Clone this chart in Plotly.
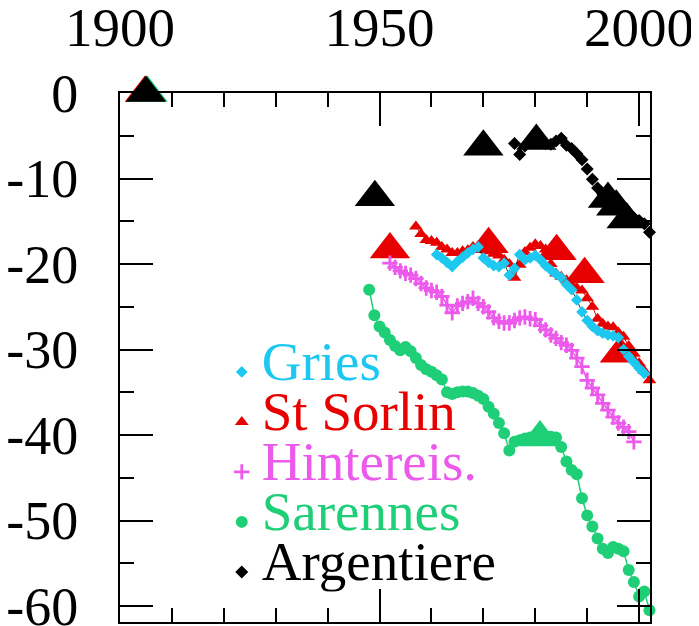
import plotly.graph_objects as go

# ---------------- data ----------------
gries_years = list(range(1961, 2002))
gries_vals = [-18.9, -19.3, -19.8, -20.3, -19.7, -19.2, -18.7, -18.3, -18.0, -19.3,
              -19.8, -20.2, -20.3, -19.9, -21.3, -20.5, -18.9, -19.5, -19.3, -19.0,
              -19.5, -20.2, -20.7, -21.2, -21.6, -22.4, -23.0, -24.2, -25.6, -26.6,
              -27.3, -27.8, -28.1, -28.3, -28.4, -28.6, -30.0, -30.8, -31.5, -32.2,
              -32.8]

sorlin_years = list(range(1957, 2003))
sorlin_vals = [-15.6, -16.5, -17.2, -17.3, -17.5, -18.0, -18.3, -18.7, -18.7, -18.5,
               -18.4, -18.0, -17.9, -18.2, -18.5, -18.8, -19.0, -19.5, -20.0, -21.6,
               -20.1, -18.6, -18.1, -17.7, -17.9, -18.3, -20.0, -21.1, -21.5, -21.9,
               -22.4, -22.8, -23.1, -24.0, -25.0, -26.4, -27.0, -27.3, -27.4, -28.0,
               -28.5, -29.6, -30.5, -31.6, -32.5, -33.6]

hinter_years = list(range(1952, 2000))
hinter_vals = [-19.9, -20.4, -20.8, -21.1, -21.3, -21.7, -22.3, -22.8, -23.1, -23.3,
               -23.8, -24.8, -25.7, -24.9, -24.6, -24.4, -24.0, -24.6, -25.0, -25.6,
               -26.3, -26.7, -26.9, -26.9, -26.6, -26.3, -26.2, -26.4, -26.5, -27.2,
               -27.7, -28.3, -28.7, -29.2, -29.5, -30.1, -31.0, -32.0, -33.6, -34.5,
               -35.3, -36.3, -37.1, -37.9, -38.6, -39.1, -39.6, -40.8]

saren_years = list(range(1948, 2003))
saren_vals = [-23.0, -26.0, -27.3, -28.0, -28.9, -29.6, -30.1, -29.7, -30.2, -31.0,
              -31.8, -32.3, -32.6, -33.0, -33.5, -35.0, -35.2, -35.0, -34.9, -34.9,
              -35.1, -35.4, -35.8, -36.7, -37.5, -38.6, -39.8, -41.8, -40.8, -40.6,
              -40.4, -40.3, -40.2, -40.2, -40.2, -40.2, -40.3, -41.4, -43.1, -44.1,
              -44.6, -47.4, -49.4, -50.7, -52.1, -53.3, -53.8, -53.1, -53.3, -53.6,
              -55.8, -57.2, -58.9, -58.3, -60.5]

argent_years = list(range(1976, 2003))
argent_vals = [-5.9, -7.2, -6.2, -5.8, -5.4, -5.6, -5.9, -6.0, -5.6, -5.3,
               -6.1, -6.5, -7.1, -7.8, -8.9, -10.1, -11.1, -11.8, -12.3, -12.6,
               -13.1, -13.7, -14.1, -14.6, -14.9, -15.3, -16.3]

# large triangles (other estimates)
big_red_x = [1904.8, 1952.0, 1971.0, 1984.1, 1989.5, 1996.3]
big_red_y = [0.0, -18.3, -17.7, -18.5, -21.2, -30.5]
big_green_x = [1905.3, 1980.9]
big_green_y = [0.0, -40.3]
big_black_x = [1905.0, 1949.1, 1970.0, 1980.2, 1994.0, 1995.6, 1997.6]
big_black_y = [0.0, -12.2, -6.3, -5.6, -12.4, -13.3, -14.8]

names = ["Gries", "St Sorlin", "Hintereis.", "Sarennes", "Argentiere"]
colors = ["#1CC8F0", "#E80000", "#EC5AEC", "#1ECF78", "#000000"]

x_ticks = [1900, 1950, 2000]
y_ticks = [0, -10, -20, -30, -40, -50, -60]

FONT = "Liberation Serif"


def lname(i):
    return '<span style="font-size:55px;color:%s">%s</span>' % (colors[i], names[i])


fig = go.Figure()

# big red / green triangles (behind)
fig.add_trace(go.Scatter(x=big_red_x, y=big_red_y, mode="markers", showlegend=False,
                         marker=dict(symbol="triangle-up", size=35, color=colors[1]),
                         cliponaxis=False, hoverinfo="skip"))
fig.add_trace(go.Scatter(x=big_green_x, y=big_green_y, mode="markers", showlegend=False,
                         marker=dict(symbol="triangle-up", size=35, color=colors[3]),
                         cliponaxis=False, hoverinfo="skip"))

series = [
    # (index, years, values, symbol, size, line colour, line width, rank)
    (1, sorlin_years, sorlin_vals, "triangle-up", 12, colors[1], 1, 2),
    (0, gries_years, gries_vals, "diamond", 9, "#000000", 0.8, 1),
    (2, hinter_years, hinter_vals, "cross-thin", 11, colors[2], 1.5, 3),
    (3, saren_years, saren_vals, "circle", 12, colors[3], 1.5, 4),
    (4, argent_years, argent_vals, "diamond", 10, None, 0, 5),
]

for idx, xs, ys, sym, sz, lcol, lw, rank in series:
    if lcol is not None:
        fig.add_trace(go.Scatter(x=xs, y=ys, mode="lines", showlegend=False,
                                 line=dict(color=lcol, width=lw), cliponaxis=False,
                                 hoverinfo="skip"))
    if sym == "cross-thin":
        mk = dict(symbol=sym, size=sz, line=dict(color=colors[idx], width=2.8))
    else:
        mk = dict(symbol=sym, size=sz, color=colors[idx], line=dict(width=0))
    fig.add_trace(go.Scatter(x=xs, y=ys, mode="markers", name=lname(idx),
                             legendrank=rank, legendgroup=names[idx],
                             cliponaxis=False, marker=mk))

# big black triangles (front)
fig.add_trace(go.Scatter(x=big_black_x, y=big_black_y, mode="markers", showlegend=False,
                         marker=dict(symbol="triangle-up", size=35, color="#000000"),
                         cliponaxis=False, hoverinfo="skip"))

axis_common = dict(
    showgrid=False, zeroline=False, automargin=False,
    showline=True, linecolor="black", linewidth=2,
    ticks="inside", ticklen=33, tickwidth=2, tickcolor="black",
    mirror="allticks", ticklabeloverflow="allow",
)

fig.update_xaxes(range=[1900, 2002.1], side="top", tickvals=x_ticks,
                 ticktext=[str(v) for v in x_ticks], ticklabelstandoff=23,
                 tickfont=dict(family=FONT, size=55, color="black"),
                 minor=dict(dtick=10, tick0=1900, ticks="inside", ticklen=14,
                            tickwidth=2, tickcolor="black"),
                 **axis_common)
fig.update_yaxes(range=[-61.87, 0], tickvals=y_ticks,
                 ticktext=[str(v) for v in y_ticks], ticklabelstandoff=29,
                 tickfont=dict(family=FONT, size=54, color="black"),
                 minor=dict(dtick=5, tick0=0, ticks="inside", ticklen=14,
                            tickwidth=2, tickcolor="black"),
                 **axis_common)

# the page body adds an 8px offset; the figure is sized so the plot area
# lands at the same pixels as the reference
fig.update_layout(
    width=691, height=618,
    margin=dict(l=112, r=49, t=85, b=4, autoexpand=False),
    paper_bgcolor="white", plot_bgcolor="white",
    font=dict(family=FONT, color="black"),
    showlegend=True,
    legend=dict(x=0.192, y=0.549, xanchor="left", yanchor="top",
                bgcolor="rgba(0,0,0,0)", borderwidth=0,
                title=dict(text=" ", font=dict(family=FONT, size=16)),
                font=dict(family=FONT, size=20, color="black"),
                itemsizing="trace", traceorder="grouped", tracegroupgap=21),
)

fig.write_html("out.html")
